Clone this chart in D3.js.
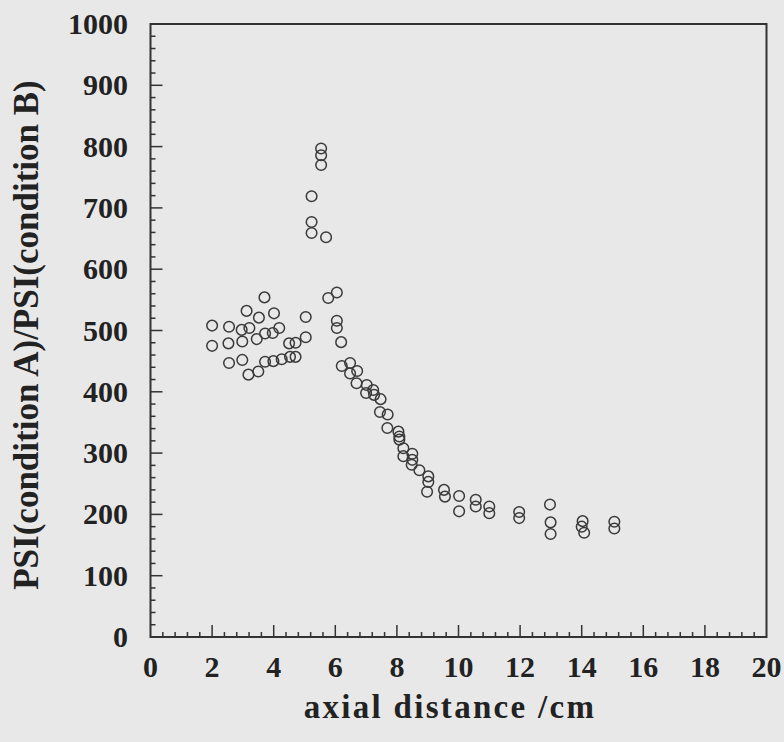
<!DOCTYPE html>
<html>
<head>
<meta charset="utf-8">
<script src="https://cdn.jsdelivr.net/npm/d3@7"></script>
<style>
  html, body { margin: 0; padding: 0; background: #e8e8e8; }
  svg { display: block; }
</style>
</head>
<body>
<script>
// Axial distance (cm) of each measurement
const distance = [
  2.0, 2.0, 2.55, 2.53, 2.55, 2.98, 2.96, 2.98, 3.12, 3.21, 3.18, 3.50, 3.52, 3.45,
  3.70, 3.72, 3.72, 3.97, 4.01, 3.99, 4.18, 4.26, 4.50, 4.53, 4.71, 4.71, 5.04, 5.04,
  5.23, 5.23, 5.23, 5.54, 5.54, 5.54, 5.70, 5.77, 6.05, 6.05, 6.05, 6.19, 6.21, 6.48,
  6.48, 6.71, 6.69, 7.02, 7.00, 7.23, 7.26, 7.47, 7.45, 7.70, 7.69, 8.05, 8.08, 8.08,
  8.21, 8.21, 8.50, 8.50, 8.48, 8.73, 9.02, 9.02, 8.98, 9.53, 9.56, 10.02, 10.02,
  10.56, 10.56, 11.0, 11.0, 11.97, 11.97, 12.97, 12.99, 12.99, 14.03, 14.0, 14.08,
  15.06, 15.06
];
// PSI(condition A)/PSI(condition B) at each distance
const ratio = [
  508, 475, 506, 479, 447, 452, 501, 482, 532, 504, 428, 433, 521, 486,
  554, 495, 449, 496, 528, 450, 504, 453, 479, 457, 480, 457, 522, 489,
  719, 677, 659, 797, 786, 770, 652, 553, 562, 516, 504, 481, 442, 447,
  430, 434, 414, 411, 398, 403, 395, 388, 367, 363, 341, 335, 327, 322,
  308, 295, 299, 289, 281, 272, 262, 253, 237, 240, 229, 230, 205,
  224, 213, 213, 202, 204, 194, 216, 187, 168, 189, 180, 170,
  188, 177
];
const xTicks = [0, 2, 4, 6, 8, 10, 12, 14, 16, 18, 20];
const yTicks = [0, 100, 200, 300, 400, 500, 600, 700, 800, 900, 1000];

const W = 784, H = 742;
const plotL = 150.5, plotR = 766.5, plotT = 24, plotB = 637;
const ink = "#333";

const svg = d3.select("body").append("svg")
  .attr("width", W).attr("height", H)
  .style("background", "#e8e8e8");

const x = d3.scaleLinear().domain([0, 20]).range([plotL, plotR]);
const y = d3.scaleLinear().domain([0, 1000]).range([plotB, plotT]);

const font = "'Liberation Serif', 'Times New Roman', serif";

// minor ticks (inward)
const xMinor = d3.range(0, 20.001, 0.4).filter(v => Math.abs(v / 2 - Math.round(v / 2)) > 1e-6);
const yMinor = d3.range(0, 1000.001, 20).filter(v => v % 100 !== 0);

const g = svg.append("g");
g.selectAll("line.xminor").data(xMinor).enter().append("line")
  .attr("x1", d => x(d)).attr("x2", d => x(d))
  .attr("y1", plotB).attr("y2", plotB - 5)
  .attr("stroke", ink).attr("stroke-width", 1.5);
g.selectAll("line.xmajor").data(xTicks.slice(1, -1)).enter().append("line")
  .attr("x1", d => x(d)).attr("x2", d => x(d))
  .attr("y1", plotB).attr("y2", plotB - 12)
  .attr("stroke", ink).attr("stroke-width", 1.5);
g.selectAll("line.yminor").data(yMinor).enter().append("line")
  .attr("x1", plotL).attr("x2", plotL + 5)
  .attr("y1", d => y(d)).attr("y2", d => y(d))
  .attr("stroke", ink).attr("stroke-width", 1.5);
g.selectAll("line.ymajor").data(yTicks.slice(1, -1)).enter().append("line")
  .attr("x1", plotL).attr("x2", plotL + 12)
  .attr("y1", d => y(d)).attr("y2", d => y(d))
  .attr("stroke", ink).attr("stroke-width", 1.5);

// frame
svg.append("rect")
  .attr("x", plotL).attr("y", plotT)
  .attr("width", plotR - plotL).attr("height", plotB - plotT)
  .attr("fill", "none").attr("stroke", ink).attr("stroke-width", 2);

// tick labels
svg.selectAll("text.xl").data(xTicks).enter().append("text")
  .attr("x", d => x(d)).attr("y", 677)
  .attr("text-anchor", "middle")
  .attr("font-family", font).attr("font-weight", "bold").attr("font-size", 30)
  .attr("fill", "#222")
  .text(d => d);
svg.selectAll("text.yl").data(yTicks).enter().append("text")
  .attr("x", 128).attr("y", d => y(d) + 10)
  .attr("text-anchor", "end")
  .attr("font-family", font).attr("font-weight", "bold").attr("font-size", 30)
  .attr("fill", "#222")
  .text(d => d);

// axis titles
svg.append("text")
  .attr("x", 450).attr("y", 718)
  .attr("text-anchor", "middle")
  .attr("font-family", font).attr("font-weight", "bold").attr("font-size", 33)
  .attr("letter-spacing", 2.3)
  .attr("fill", "#222")
  .text("axial distance /cm");
svg.append("text")
  .attr("transform", "translate(38,335) rotate(-90)")
  .attr("text-anchor", "middle")
  .attr("font-family", font).attr("font-weight", "bold").attr("font-size", 35)
  .attr("fill", "#222")
  .text("PSI(condition A)/PSI(condition B)");

// data points: open circles
const pts = distance.map((d, i) => ({ d, r: ratio[i] }));
svg.append("g").selectAll("circle").data(pts).enter().append("circle")
  .attr("cx", p => x(p.d)).attr("cy", p => y(p.r))
  .attr("r", 5.3)
  .attr("fill", "none").attr("stroke", "#3a3a3a").attr("stroke-width", 1.5);
</script>
</body>
</html>
